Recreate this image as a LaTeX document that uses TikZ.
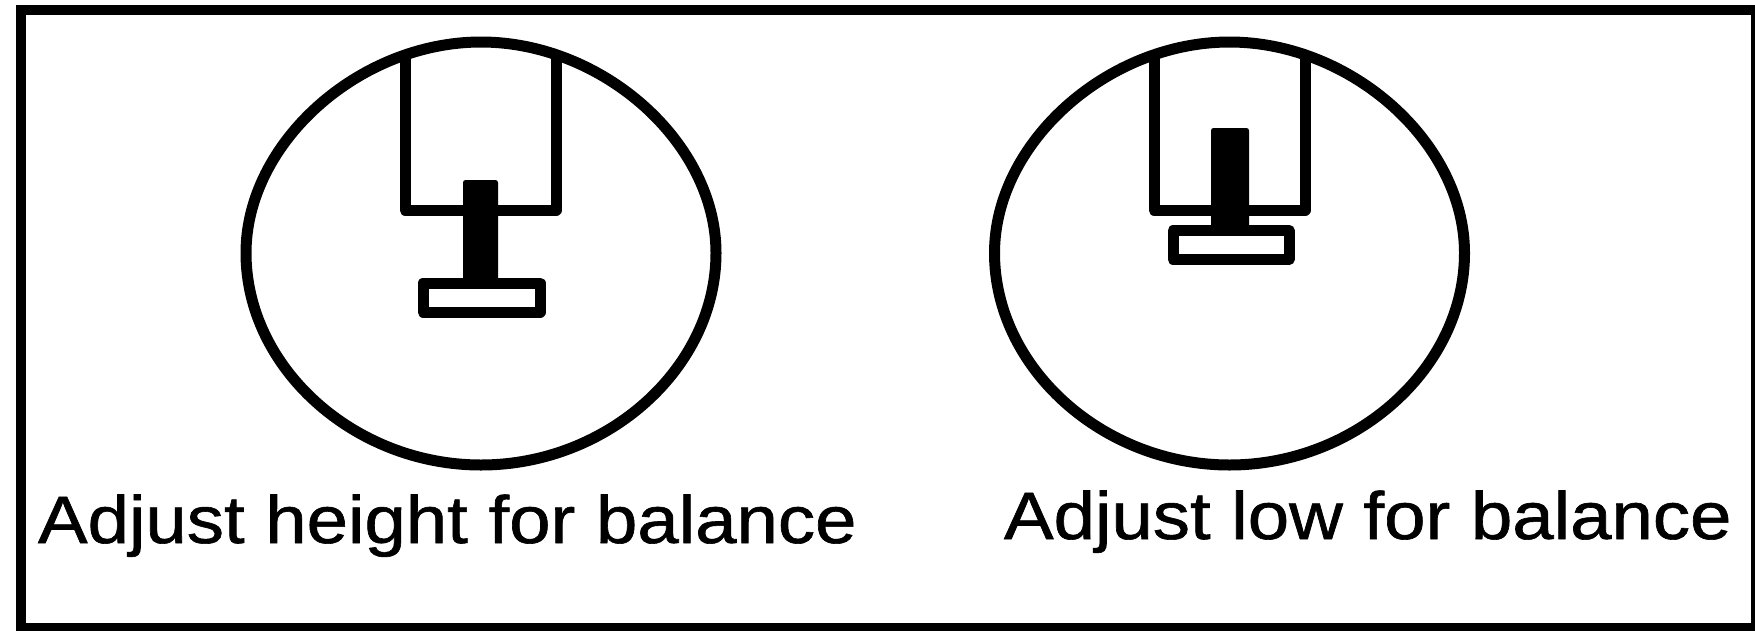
\documentclass[tikz,border=0pt]{standalone}
\usepackage{fontspec}
\setmainfont{Liberation Sans}
\font\captionface="Liberation Sans:embolden=0.9" at 67pt
\tikzset{
  ink/.style={draw=black,line width=11pt,line join=round},
  stem/.style={fill=black,draw=none,rounded corners=2.5pt},
  caption/.style={anchor=base west,inner sep=0pt,outer sep=0pt,text=black,font=\captionface}
}
\newcommand{\stretched}[1]{\scalebox{1.11}[1]{#1}}
\newcommand{\eggoutline}{%
  (0,-211) .. controls (122,-211) and (235,-110) .. (235,0)
  .. controls (235,114.5) and (127,212) .. (0,212)
  .. controls (-127,212) and (-235,114.5) .. (-235,0)
  .. controls (-235,-110) and (-122,-211) .. cycle}
\begin{document}
\begin{tikzpicture}[x=1pt,y=-1pt]
\path[use as bounding box,clip] (0,0) rectangle (1755,630);
\fill[white] (0,0) rectangle (1755,630);
% outer frame
\draw[ink,line join=miter,line width=10pt] (21,10) rectangle (1756,628);
% left figure
\draw[ink] (405,53) -- (405,210) -- (556,210) -- (556,53);
\begin{scope}[shift={(481,253)}]
\draw[ink] \eggoutline;
\end{scope}
\draw[ink] (423,283) rectangle (540,312);
\fill[stem] (463,180) rectangle (498,285);
% right figure
\draw[ink] (1154,53) -- (1154,210) -- (1305,210) -- (1305,53);
\begin{scope}[shift={(1229.5,253)}]
\draw[ink] \eggoutline;
\end{scope}
\draw[ink] (1173,230.5) rectangle (1289,259.5);
\fill[stem] (1211,128) rectangle (1249,232);
% captions
\node[caption] (capleft) at (38,543) {\stretched{Adjust height for balance}};
\node[caption] (capright) at (1004,539) {\stretched{Adjust low for balance}};
\end{tikzpicture}
\end{document}
